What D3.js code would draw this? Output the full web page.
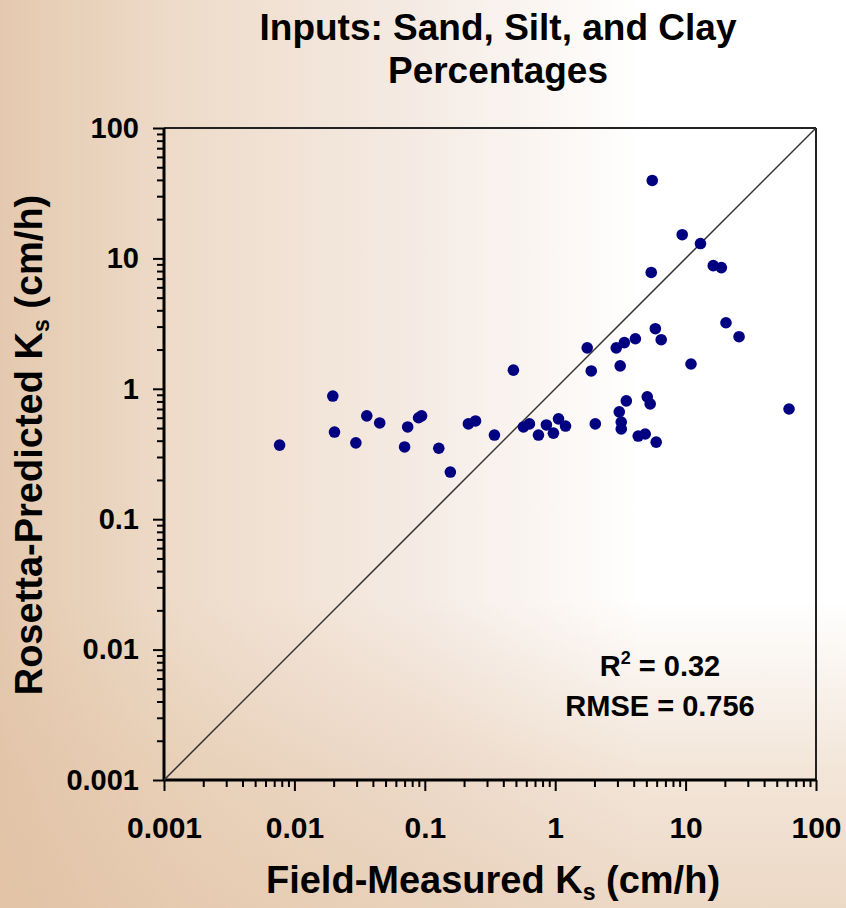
<!DOCTYPE html>
<html>
<head>
<meta charset="utf-8">
<script src="https://cdn.jsdelivr.net/npm/d3@7"></script>
<style>
  html, body { margin: 0; padding: 0; background: #fff; }
  svg { display: block; font-family: "Liberation Sans", Arial, sans-serif; font-weight: bold; }
</style>
</head>
<body>
<svg id="chart" width="846" height="908"></svg>
<script>
// field-measured Ks (cm/h)
var fieldKs = [0.0077, 0.0197, 0.0203, 0.0296, 0.0359, 0.0451, 0.070, 0.0739, 0.0896, 0.0945,
  0.128, 0.157, 0.216, 0.245, 0.342, 0.478, 0.571, 0.634, 0.744, 0.856,
  0.969, 1.06, 1.20, 1.76, 1.89, 2.03, 2.94, 3.39, 3.15, 4.12,
  3.51, 3.10, 3.21, 3.21, 4.33, 4.90, 5.08, 5.35, 5.86, 6.50,
  5.95, 5.55, 5.45, 9.42, 13.0, 16.3, 18.8, 11.0, 20.4, 25.7, 62.1];
// Rosetta-predicted Ks (cm/h)
var predKs = [0.37, 0.88, 0.466, 0.385, 0.62, 0.547, 0.358, 0.51, 0.60, 0.62,
  0.35, 0.23, 0.538, 0.567, 0.442, 1.39, 0.51, 0.538, 0.442, 0.528,
  0.457, 0.588, 0.518, 2.06, 1.37, 0.538, 2.06, 2.26, 1.50, 2.42,
  0.808, 0.666, 0.556, 0.492, 0.434, 0.45, 0.868, 0.766, 2.89, 2.38,
  0.39, 39.6, 7.8, 15.2, 13.0, 8.8, 8.5, 1.55, 3.21, 2.51, 0.70];

var tickVals = [0.001, 0.01, 0.1, 1, 10, 100];
var tickLabels = ["0.001", "0.01", "0.1", "1", "10", "100"];
var titleLines = ["Inputs: Sand, Silt, and Clay", "Percentages"];
var statLines = ["0.32", "RMSE = 0.756"];

var svg = d3.select("#chart"),
    width = +svg.attr("width"),
    height = +svg.attr("height");

// plot box (don't call it "top", that's window.top)
var pLeft = 164, pRight = 816, pTop = 128, pBottom = 780;

// background: tan on the left fading to white, tan haze along the bottom
var defs = svg.append("defs");
var bg = defs.append("linearGradient").attr("id", "bg").attr("x1", 0).attr("x2", 1).attr("y1", 0).attr("y2", 0);
bg.append("stop").attr("offset", "0%").attr("stop-color", "#e4c9af");
bg.append("stop").attr("offset", "22%").attr("stop-color", "#eedcca");
bg.append("stop").attr("offset", "50%").attr("stop-color", "#f5ebe4");
bg.append("stop").attr("offset", "76%").attr("stop-color", "#ffffff");
bg.append("stop").attr("offset", "100%").attr("stop-color", "#ffffff");
var haze = defs.append("linearGradient").attr("id", "haze").attr("x1", 0).attr("x2", 0).attr("y1", 0).attr("y2", 1);
haze.append("stop").attr("offset", "0%").attr("stop-color", "#e0bf9f").attr("stop-opacity", 0);
haze.append("stop").attr("offset", "55%").attr("stop-color", "#e0bf9f").attr("stop-opacity", 0.4);
haze.append("stop").attr("offset", "100%").attr("stop-color", "#e0bf9f").attr("stop-opacity", 0.6);

svg.append("rect").attr("width", width).attr("height", height).attr("fill", "url(#bg)");
svg.append("rect").attr("y", 600).attr("width", width).attr("height", height - 600).attr("fill", "url(#haze)");

var x = d3.scaleLog().domain([0.001, 100]).range([pLeft, pRight]);
var y = d3.scaleLog().domain([0.001, 100]).range([pBottom, pTop]);

var minor = [];
for (var e = -3; e < 2; e++) {
  for (var m = 2; m <= 9; m++) minor.push(m * Math.pow(10, e));
}

// minor ticks
svg.append("g").attr("transform", "translate(0," + pBottom + ")")
  .call(d3.axisBottom(x).tickValues(minor).tickSize(7).tickFormat(""))
  .call(function(g) { g.select(".domain").remove(); g.selectAll("line").attr("stroke", "#000").attr("stroke-width", 2); });
svg.append("g").attr("transform", "translate(" + pLeft + ",0)")
  .call(d3.axisLeft(y).tickValues(minor).tickSize(7).tickFormat(""))
  .call(function(g) { g.select(".domain").remove(); g.selectAll("line").attr("stroke", "#000").attr("stroke-width", 2); });

// major ticks + labels
var xAxis = svg.append("g").attr("transform", "translate(0," + pBottom + ")")
  .call(d3.axisBottom(x).tickValues(tickVals).tickSize(11).tickPadding(26)
    .tickFormat(function(d, i) { return tickLabels[i]; }));
xAxis.select(".domain").remove();
xAxis.selectAll("line").attr("stroke", "#000").attr("stroke-width", 2);
xAxis.selectAll("text").attr("fill", "#000").style("font-size", "30px").style("font-weight", "bold")
  .style("font-family", "'Liberation Sans', Arial, sans-serif");

var yAxis = svg.append("g").attr("transform", "translate(" + pLeft + ",0)")
  .call(d3.axisLeft(y).tickValues(tickVals).tickSize(11).tickPadding(14)
    .tickFormat(function(d, i) { return tickLabels[i]; }));
yAxis.select(".domain").remove();
yAxis.selectAll("line").attr("stroke", "#000").attr("stroke-width", 2);
yAxis.selectAll("text").attr("fill", "#000").style("font-size", "29px").style("font-weight", "bold")
  .style("font-family", "'Liberation Sans', Arial, sans-serif");

// frame
svg.append("line").attr("x1", pLeft).attr("x2", pRight).attr("y1", pTop).attr("y2", pTop).attr("stroke", "#222").attr("stroke-width", 2);
svg.append("line").attr("x1", pRight).attr("x2", pRight).attr("y1", pTop).attr("y2", pBottom).attr("stroke", "#222").attr("stroke-width", 2);
svg.append("line").attr("x1", pLeft).attr("x2", pRight).attr("y1", pBottom).attr("y2", pBottom).attr("stroke", "#000").attr("stroke-width", 3);
svg.append("line").attr("x1", pLeft).attr("x2", pLeft).attr("y1", pTop).attr("y2", pBottom).attr("stroke", "#000").attr("stroke-width", 3);

// 1:1 line
svg.append("line")
  .attr("x1", x(0.001)).attr("y1", y(0.001))
  .attr("x2", x(100)).attr("y2", y(100))
  .attr("stroke", "#333").attr("stroke-width", 1.5);

// points
var pts = fieldKs.map(function(d, i) { return { f: d, p: predKs[i] }; });
svg.append("g").selectAll("circle")
  .data(pts)
  .enter().append("circle")
  .attr("cx", function(d) { return x(d.f); })
  .attr("cy", function(d) { return y(d.p); })
  .attr("r", 5.8)
  .attr("fill", "#000080");

// title
svg.append("g").selectAll("text")
  .data(titleLines)
  .enter().append("text")
  .attr("x", 498)
  .attr("y", function(d, i) { return 40 + i * 43; })
  .attr("text-anchor", "middle")
  .style("font-size", "37px")
  .text(function(d) { return d; });

// stats
var r2 = svg.append("text").attr("x", 660).attr("y", 676).attr("text-anchor", "middle").style("font-size", "29px");
r2.append("tspan").text("R");
r2.append("tspan").attr("dy", -12).style("font-size", "18px").text("2");
r2.append("tspan").attr("dy", 12).text(" = " + statLines[0]);
svg.append("text").attr("x", 660).attr("y", 716).attr("text-anchor", "middle").style("font-size", "29px").text(statLines[1]);

// axis titles
var xt = svg.append("text").attr("x", 493).attr("y", 893).attr("text-anchor", "middle").style("font-size", "38px");
xt.append("tspan").text("Field-Measured K");
xt.append("tspan").attr("dy", 7).style("font-size", "23px").text("s");
xt.append("tspan").attr("dy", -7).text(" (cm/h)");

var yt = svg.append("text").attr("transform", "translate(42," + 445 + ") rotate(-90)")
  .attr("text-anchor", "middle").style("font-size", "38px");
yt.append("tspan").text("Rosetta-Predicted K");
yt.append("tspan").attr("dy", 7).style("font-size", "23px").text("s");
yt.append("tspan").attr("dy", -7).text(" (cm/h)");
</script>
</body>
</html>
